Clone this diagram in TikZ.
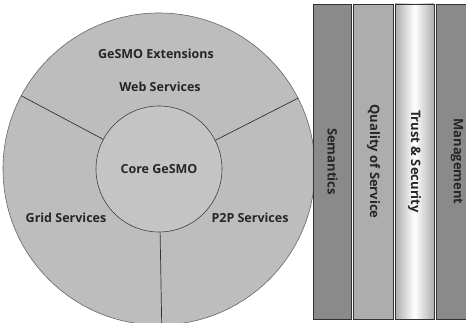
\documentclass[tikz,border=0pt]{standalone}
\usepackage{fontspec}
\setmainfont{Open Sans}
\usetikzlibrary{calc,positioning}
\definecolor{ringgray}{gray}{0.74}
\definecolor{coregray}{gray}{0.77}
\definecolor{bardark}{gray}{0.54}
\definecolor{barmid}{gray}{0.68}
\definecolor{barlight}{gray}{0.9}

\tikzset{
  lbl/.style={font=\bfseries\fontsize{12.5}{14}\selectfont, text=black!85},
  pillar/.style={draw=black!80, line width=0.6pt, rectangle, rotate=-90,
    minimum width=315pt, inner sep=0pt, font=\bfseries\fontsize{13}{15}\selectfont, text=black!85},
}

\begin{document}
\begin{tikzpicture}[x=1pt, y=-1pt]
\useasboundingbox (0,0) rectangle (466,323);
\clip (0,0) rectangle (466,323);

% outer ring and core
\node[circle, draw=black!60, line width=0.6pt, fill=ringgray, minimum size=312pt, inner sep=0pt] (ring) at (159,169) {};
\node[circle, draw=black!75, line width=0.6pt, fill=coregray, minimum size=126pt, inner sep=0pt, lbl] (core) at (159,169) {Core GeSMO};

\draw[black!80, line width=0.7pt] (core.152) -- (ring.152);
\draw[black!80, line width=0.7pt] (core.27) -- (ring.27);
\draw[black!80, line width=0.7pt] (core.271) -- (ring.271);

\node[lbl] (ext) at (156,54) {GeSMO Extensions};
\node[lbl] (web) at (160,87) {Web Services};
\node[lbl] (grid) at (66,218) {Grid Services};
\node[lbl] (p2p) at (250,218) {P2P Services};

% vertical pillars
\node[pillar, fill=bardark, minimum height=38pt] (sem) at (332.5,161.5) {Semantics};
\node[pillar, fill=barmid, minimum height=40pt] (qos) at (373.5,161.5) {Quality of Service};
\node[pillar, left color=barmid, right color=barmid, middle color=white, minimum height=39pt] (trust) at (414.5,161.5) {Trust \& Security};
\node[pillar, fill=bardark, minimum height=42pt] (mgmt) at (457,161.5) {Management};
\end{tikzpicture}
\end{document}
